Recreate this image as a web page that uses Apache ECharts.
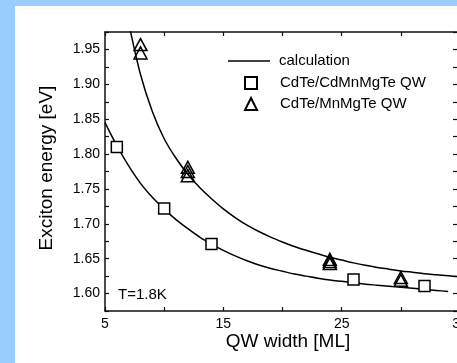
<!DOCTYPE html>
<html>
<head>
<meta charset="utf-8">
<script src="https://cdn.jsdelivr.net/npm/echarts@6/dist/echarts.min.js"></script>
<style>
html,body{margin:0;padding:0;background:#99ccff;}
#c{width:457px;height:363px;}
</style>
</head>
<body>
<div id="c"></div>
<script>
// ---- data ----
const calcUpperX = [7, 8, 9, 10, 11, 12, 13, 14, 15, 16, 17, 18, 19, 20, 21, 22, 23, 24, 25, 26, 27, 28, 29, 30, 31, 32, 33, 34, 35];
const calcUpperY = [1.988, 1.914, 1.861, 1.822, 1.794, 1.771, 1.752, 1.736, 1.7215, 1.709, 1.698, 1.689, 1.681, 1.674, 1.6675, 1.662, 1.657, 1.652, 1.648, 1.644, 1.6405, 1.6375, 1.635, 1.6325, 1.6305, 1.6285, 1.627, 1.6255, 1.624];
const calcLowerX = [5, 6, 7, 8, 9, 10, 11, 12, 13, 14, 15, 16, 17, 18, 19, 20, 21, 22, 23, 24, 25, 26, 27, 28, 29, 30, 31, 32, 33, 34];
const calcLowerY = [1.845, 1.812, 1.783, 1.758, 1.738, 1.721, 1.706, 1.693, 1.681, 1.671, 1.662, 1.654, 1.647, 1.641, 1.636, 1.632, 1.628, 1.625, 1.622, 1.6195, 1.6175, 1.6155, 1.6135, 1.612, 1.6105, 1.609, 1.6075, 1.606, 1.6045, 1.603];
const cdmnX = [6, 10, 14, 26, 32];
const cdmnY = [1.810, 1.722, 1.671, 1.620, 1.611];
const mnX = [8, 8, 12, 12, 12, 24, 24, 24, 30, 30];
const mnY = [1.957, 1.945, 1.781, 1.775, 1.769, 1.649, 1.646, 1.643, 1.623, 1.619];
const xTickLabels = [5, 15, 25, 35];
const yTickLabels = ['1.60', '1.65', '1.70', '1.75', '1.80', '1.85', '1.90', '1.95'];
const seriesNames = ['calculation', 'CdTe/CdMnMgTe QW', 'CdTe/MnMgTe QW'];

const zip = (xs, ys) => xs.map((x, i) => [x, ys[i]]);
const FONT = '"Liberation Sans", Arial, Helvetica, sans-serif';

const chart = echarts.init(document.getElementById('c'), null, {renderer: 'canvas'});
const axisLine = {show: true, lineStyle: {color: '#111', width: 1.5}};
const legendText = pad => ({fontSize: 15, color: '#000', fontFamily: FONT, padding: [0, 0, 0, pad]});
const option = {
  backgroundColor: '#99ccff',
  animation: false,
  grid: {left: 105, top: 32, width: 355, height: 279, containLabel: false, outerBoundsMode: 'none'},
  xAxis: [{
    type: 'value', min: 5, max: 35, interval: 5,
    axisLine, axisTick: {inside: true, length: 4, lineStyle: {color: '#111', width: 1.2}},
    splitLine: {show: false},
    axisLabel: {
      margin: 6, fontSize: 14, color: '#000', fontFamily: FONT, hideOverlap: false,
      showMinLabel: true, showMaxLabel: true,
      formatter: v => xTickLabels.indexOf(Math.round(v)) >= 0 ? String(Math.round(v)) : ''
    }
  }, {
    type: 'value', position: 'top', min: 5, max: 35, interval: 5,
    axisLine, axisTick: {inside: true, length: 4, lineStyle: {color: '#111', width: 1.2}},
    axisLabel: {show: false}, splitLine: {show: false}
  }],
  yAxis: [{
    type: 'value', min: 1.575, max: 1.975, interval: 0.025,
    axisLine, axisTick: {inside: true, length: 4, lineStyle: {color: '#111', width: 1.2}},
    splitLine: {show: false},
    axisLabel: {
      margin: 5, fontSize: 14, color: '#000', fontFamily: FONT,
      formatter: v => { const s = v.toFixed(2); return yTickLabels.indexOf(s) >= 0 && Math.abs(v - parseFloat(s)) < 1e-6 ? s : ''; }
    }
  }, {
    type: 'value', position: 'right', min: 1.575, max: 1.975, interval: 0.025,
    axisLine, axisTick: {inside: true, length: 7, lineStyle: {color: '#111', width: 1.2}},
    axisLabel: {show: false}, splitLine: {show: false}
  }],
  legend: [{
    orient: 'vertical', left: 228, top: 53.5, padding: 0, itemWidth: 42, itemHeight: 1.6,
    selectedMode: false, textStyle: legendText(4),
    data: [{name: seriesNames[0], icon: 'rect', itemStyle: {color: '#000', borderWidth: 0}}]
  }, {
    orient: 'vertical', left: 244, top: 75.5, padding: 0, itemWidth: 12, itemHeight: 12, itemGap: 6,
    selectedMode: false, textStyle: legendText(18),
    data: [{name: seriesNames[1], icon: 'rect'}, {name: seriesNames[2], icon: 'triangle'}]
  }],
  graphic: [
    {type: 'rect', z: -100, shape: {x: 15, y: 6, width: 442, height: 357}, style: {fill: '#ffffff'}, silent: true},
    {type: 'text', x: 118, y: 295, style: {text: 'T=1.8K', font: '15px ' + FONT, fill: '#000', align: 'left', verticalAlign: 'middle'}},
    {type: 'text', x: 288, y: 342, style: {text: 'QW width [ML]', font: '19px ' + FONT, fill: '#000', align: 'center', verticalAlign: 'middle'}},
    {type: 'text', x: 47, y: 168, rotation: Math.PI / 2, style: {text: 'Exciton energy [eV]', font: '19px ' + FONT, fill: '#000', align: 'center', verticalAlign: 'middle'}}
  ],
  series: [
    {name: seriesNames[0], type: 'line', smooth: 0.3, symbol: 'none', data: zip(calcUpperX, calcUpperY),
     lineStyle: {color: '#000', width: 1.5}, itemStyle: {color: '#000'}, z: 2},
    {name: seriesNames[0], type: 'line', smooth: 0.3, symbol: 'none', data: zip(calcLowerX, calcLowerY),
     lineStyle: {color: '#000', width: 1.5}, itemStyle: {color: '#000'}, z: 2},
    {name: seriesNames[1], type: 'scatter', symbol: 'rect', symbolSize: 11, data: zip(cdmnX, cdmnY),
     itemStyle: {color: '#fff', borderColor: '#000', borderWidth: 1.5, opacity: 1}, z: 3},
    {name: seriesNames[2], type: 'scatter', symbol: 'triangle', symbolSize: [13, 12], data: zip(mnX, mnY),
     itemStyle: {color: 'rgba(255,255,255,0)', borderColor: '#000', borderWidth: 1.5, opacity: 1}, z: 4}
  ]
};
chart.setOption(option);
</script>
</body>
</html>
